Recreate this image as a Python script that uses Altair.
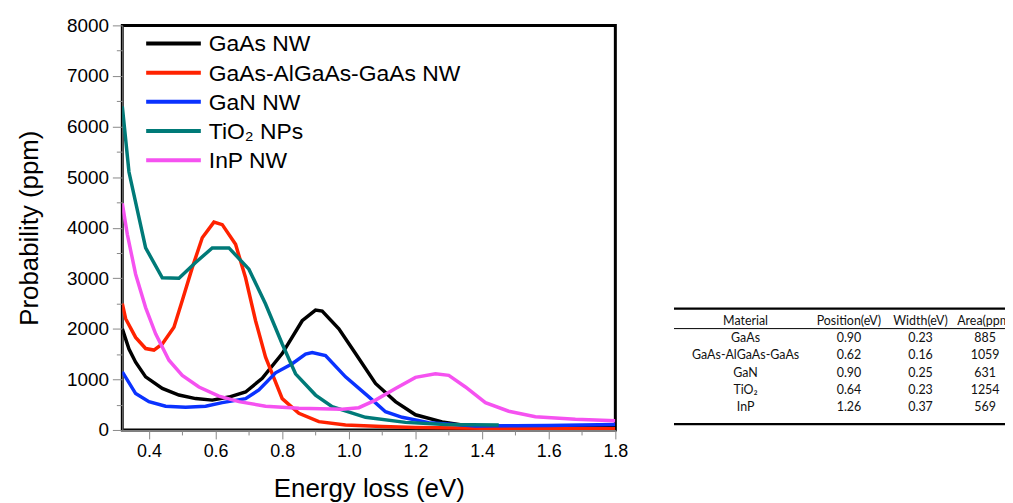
import altair as alt
import pandas as pd

# ---------------- data ----------------
series_names = ["GaAs NW", "GaAs-AlGaAs-GaAs NW", "GaN NW", "TiO₂ NPs", "InP NW"]
series_colors = ["#000000", "#ff2200", "#0a32ff", "#007a78", "#f552f0"]

gaas_x = [0.32, 0.34, 0.36, 0.39, 0.44, 0.49, 0.54, 0.59, 0.64, 0.69, 0.74, 0.80, 0.86, 0.90,
          0.92, 0.97, 1.02, 1.08, 1.14, 1.20, 1.28, 1.34, 1.40, 1.50, 1.60, 1.70, 1.80]
gaas_y = [2000, 1600, 1340, 1050, 820, 690, 620, 590, 650, 750, 1020, 1510, 2160, 2370,
          2350, 2000, 1510, 920, 560, 300, 160, 100, 80, 70, 60, 55, 50]

hetero_x = [0.32, 0.33, 0.36, 0.39, 0.415, 0.44, 0.475, 0.50, 0.53, 0.56, 0.595, 0.62, 0.66,
            0.69, 0.72, 0.75, 0.80, 0.85, 0.91, 0.99, 1.10, 1.20, 1.40, 1.60, 1.80]
hetero_y = [2500, 2200, 1830, 1610, 1580, 1700, 2030, 2560, 3210, 3800, 4110, 4060, 3670,
            3010, 2160, 1440, 620, 330, 165, 100, 70, 50, 35, 30, 25]

gan_x = [0.32, 0.36, 0.40, 0.45, 0.51, 0.57, 0.62, 0.69, 0.73, 0.78, 0.83, 0.87, 0.89, 0.93,
         0.99, 1.06, 1.11, 1.16, 1.24, 1.38, 1.50, 1.60, 1.70, 1.80]
gan_y = [1150, 720, 560, 470, 450, 470, 540, 620, 790, 1130, 1310, 1500, 1530, 1470,
         1050, 655, 360, 250, 145, 80, 85, 90, 100, 110]

tio2_x = [0.32, 0.34, 0.39, 0.44, 0.49, 0.54, 0.59, 0.64, 0.70, 0.75, 0.80, 0.84, 0.90, 0.95,
          1.05, 1.17, 1.29, 1.45]
tio2_y = [6400, 5100, 3600, 3010, 3000, 3310, 3600, 3600, 3180, 2490, 1700, 1110, 690, 460,
          250, 150, 110, 100]

inp_x = [0.32, 0.335, 0.36, 0.39, 0.42, 0.46, 0.50, 0.55, 0.61, 0.67, 0.75, 0.85, 0.98, 1.03,
         1.08, 1.14, 1.20, 1.26, 1.30, 1.35, 1.41, 1.48, 1.56, 1.68, 1.80]
inp_y = [4480, 3870, 3080, 2420, 1900, 1380, 1080, 850, 670, 560, 470, 430, 410, 440,
         590, 820, 1040, 1110, 1080, 850, 540, 370, 260, 210, 180]

x_tick_values = [0.4, 0.5, 0.6, 0.7, 0.8, 0.9, 1.0, 1.1, 1.2, 1.3, 1.4, 1.5, 1.6, 1.7, 1.8]
y_tick_values = [0, 500, 1000, 1500, 2000, 2500, 3000, 3500, 4000, 4500, 5000, 5500,
                 6000, 6500, 7000, 7500, 8000]

# table
table_header = ["Material", "Position(eV)", "Width(eV)", "Area(ppm)"]
table_material = ["GaAs", "GaAs-AlGaAs-GaAs", "GaN", "TiO₂", "InP"]
table_position = ["0.90", "0.62", "0.90", "0.64", "1.26"]
table_width = ["0.23", "0.16", "0.25", "0.23", "0.37"]
table_area = ["885", "1059", "631", "1254", "569"]

# ---------------- build tables ----------------
recs = []
for name, xs, ys in zip(series_names,
                        [gaas_x, hetero_x, gan_x, tio2_x, inp_x],
                        [gaas_y, hetero_y, gan_y, tio2_y, inp_y]):
    for i, (xv, yv) in enumerate(zip(xs, ys)):
        recs.append({"series": name, "energy": xv, "prob": yv, "idx": i})
df = pd.DataFrame(recs)

legend_df = pd.DataFrame({"series": series_names, "pos": list(range(len(series_names)))})

trecs = []
for c, h in enumerate(table_header):
    trecs.append({"row": 0, "col": c, "label": h})
for r in range(len(table_material)):
    for c, col in enumerate([table_material, table_position, table_width, table_area]):
        trecs.append({"row": r + 1, "col": c, "label": col[r]})
tdf = pd.DataFrame(trecs)

FONT = "Liberation Sans"

x_axis = alt.Axis(
    values=x_tick_values,
    labelExpr="round(datum.value*10) % 2 == 0 ? format(datum.value, '.1f') : ''",
    tickSize={"condition": {"test": "round(datum.value*10) % 2 == 0", "value": 9}, "value": 5},
    labelFlush=False, labelFontSize=18, labelPadding=4,
    titleFontSize=26, titleFontWeight="normal", titlePadding=15, grid=False,
)
y_axis = alt.Axis(
    values=y_tick_values,
    labelExpr="datum.value % 1000 == 0 ? format(datum.value, 'd') : ''",
    tickSize={"condition": {"test": "datum.value % 1000 == 0", "value": 10}, "value": 6},
    labelFontSize=19, labelPadding=4,
    titleFontSize=26, titleFontWeight="normal", titlePadding=24, grid=False,
)

color_scale = alt.Scale(domain=series_names, range=series_colors)

lines = alt.Chart(df).mark_line(strokeWidth=3.5, clip=True).encode(
    x=alt.X("energy:Q", title="Energy loss (eV)",
            scale=alt.Scale(domain=[0.32, 1.8], nice=False, zero=False), axis=x_axis),
    y=alt.Y("prob:Q", title="Probability (ppm)",
            scale=alt.Scale(domain=[0, 8000], nice=False), axis=y_axis),
    color=alt.Color("series:N", scale=color_scale, legend=None),
    order="idx:Q",
)

# hand-drawn legend (line swatches + labels), rows placed through its own scale
leg_scale = alt.Scale(domain=[-0.62, 13.25], reverse=True, nice=False, zero=False)
leg_lines = alt.Chart(legend_df).mark_rule(strokeWidth=4, strokeCap="butt").encode(
    x=alt.value(24), x2=alt.value(79),
    y=alt.Y("pos:Q", scale=leg_scale, axis=None),
    color=alt.Color("series:N", scale=color_scale, legend=None),
)
leg_text = alt.Chart(legend_df).mark_text(
    align="left", baseline="middle", font=FONT, fontSize=23, color="black", dy=1
).encode(
    x=alt.value(87),
    y=alt.Y("pos:Q", scale=leg_scale, axis=None),
    text="series:N",
)

main = alt.layer(lines, leg_lines, leg_text).resolve_scale(y="independent").properties(
    width=496, height=407,
    view=alt.ViewBackground(stroke="black", strokeWidth=3),
)

TW = 333
row_scale = alt.Scale(domain=[-17.07, 6.32], reverse=True, nice=False, zero=False)
col_scale = alt.Scale(domain=[0, 1, 2, 3], range=[72, 176, 248, 313], nice=False, zero=False)

ttext = alt.Chart(tdf).mark_text(font="Lato", fontSize=12.5, clip=True, color="#111").encode(
    x=alt.X("col:Q", scale=col_scale, axis=None),
    y=alt.Y("row:Q", scale=row_scale, axis=None),
    text="label:N",
)
one = pd.DataFrame({"k": [0]})
rule_top = alt.Chart(one).mark_rule(strokeWidth=2.2, color="black", clip=True).encode(
    x=alt.value(0), x2=alt.value(TW), y=alt.datum(-0.69))
rule_mid = alt.Chart(one).mark_rule(strokeWidth=1, color="black", clip=True).encode(
    x=alt.value(0), x2=alt.value(TW), y=alt.datum(0.46))
rule_bot = alt.Chart(one).mark_rule(strokeWidth=2.2, color="black", clip=True).encode(
    x=alt.value(0), x2=alt.value(TW), y=alt.datum(5.98))

table = alt.layer(ttext, rule_top, rule_mid, rule_bot).properties(
    width=TW, height=407,
    view=alt.ViewBackground(strokeOpacity=0, strokeWidth=0),
)

chart = alt.hconcat(main, table, spacing=44).properties(
    padding={"left": 7, "top": 5, "right": 0, "bottom": 0}
).configure_view(strokeOpacity=0).configure_axis(
    labelFont=FONT, titleFont=FONT, titleFontWeight="normal", labelColor="black",
    titleColor="black", domainColor="black", domainWidth=3, tickColor="black", tickWidth=2.5,
).configure(background="white")

chart.save("out.html", embed_options={"renderer": "svg", "actions": False})
